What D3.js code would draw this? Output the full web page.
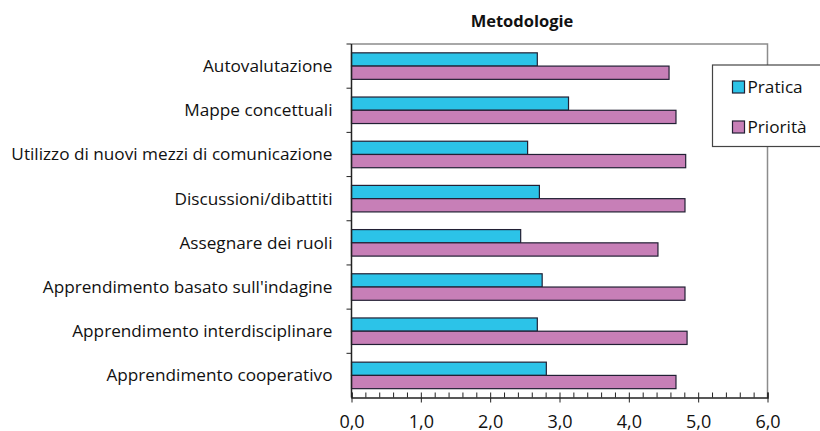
<!DOCTYPE html>
<html>
<head>
<meta charset="utf-8">
<script src="https://cdn.jsdelivr.net/npm/d3@7"></script>
<style>
  html, body { margin: 0; padding: 0; background: #fff; }
  svg { display: block; }
</style>
</head>
<body>
<svg id="chart" width="820" height="431"></svg>
<script>
// Categories, top to bottom
const categories = [
  "Autovalutazione",
  "Mappe concettuali",
  "Utilizzo di nuovi mezzi di comunicazione",
  "Discussioni/dibattiti",
  "Assegnare dei ruoli",
  "Apprendimento basato sull'indagine",
  "Apprendimento interdisciplinare",
  "Apprendimento cooperativo"
];
const seriesNames = ["Pratica", "Priorità"];
const pratica  = [2.68, 3.13, 2.54, 2.71, 2.44, 2.75, 2.68, 2.81];
const priorita = [4.58, 4.68, 4.82, 4.81, 4.42, 4.81, 4.84, 4.68];
const xTicks = [0, 1, 2, 3, 4, 5, 6];
const titleText = "Metodologie";

const colors = { "Pratica": "#2cc3e8", "Priorità": "#c77fb7" };
const labelFont = "Open Sans, sans-serif";

const svg = d3.select("#chart");
const m = { left: 351.5, right: 767.5, top: 44, bottom: 397.5 };

const x = d3.scaleLinear().domain([0, 6]).range([m.left, m.right]);
const y = d3.scaleBand().domain(categories).range([m.top, m.bottom]).padding(0);
const ys = d3.scaleBand().domain(seriesNames)
  .range([y.bandwidth() * 0.2, y.bandwidth() * 0.8]).padding(0);

const rows = categories.map((c, i) => ({ cat: c, values: [
  { s: "Pratica", v: pratica[i] },
  { s: "Priorità", v: priorita[i] }
]}));

// Frame: top and right edges of the plot area
svg.append("path")
  .attr("d", `M${m.left},${m.top}H${m.right}V${m.bottom}`)
  .attr("fill", "none").attr("stroke", "#8c8c8c").attr("stroke-width", 1.5);

// Title
svg.append("text")
  .attr("x", 522).attr("y", 27)
  .attr("text-anchor", "middle")
  .attr("font-family", "Open Sans, sans-serif")
  .attr("font-weight", "bold")
  .attr("font-size", 16.5)
  .attr("fill", "#111")
  .text(titleText);

// Bars
const groups = svg.append("g").selectAll("g").data(rows).join("g")
  .attr("transform", d => `translate(0,${y(d.cat)})`);
groups.selectAll("rect").data(d => d.values).join("rect")
  .attr("x", x(0))
  .attr("y", d => ys(d.s))
  .attr("width", d => x(d.v) - x(0))
  .attr("height", ys.bandwidth())
  .attr("fill", d => colors[d.s])
  .attr("stroke", "#222034")
  .attr("stroke-width", 1.2);

// X axis with major ticks every 1 and minor ticks every 0.2, drawn inward
const xAxisG = svg.append("g").attr("transform", `translate(0,${m.bottom})`);
const minor = d3.range(0, 30.5).map(i => i / 5);
xAxisG.call(d3.axisTop(x).tickValues(minor).tickSize(5).tickFormat(""))
  .call(g => g.selectAll(".tick line").attr("stroke", "#222").attr("stroke-width", 1))
  .call(g => g.select(".domain").attr("stroke", "#222").attr("stroke-width", 1.5));
const xLab = svg.append("g").attr("transform", `translate(0,${m.bottom})`);
xLab.call(d3.axisBottom(x).tickValues(xTicks).tickSize(5)
    .tickFormat(d => d3.format(".1f")(d).replace(".", ",")))
  .call(g => g.select(".domain").remove())
  .call(g => g.selectAll(".tick line").attr("stroke", "#222").attr("stroke-width", 1))
  .call(g => g.selectAll(".tick text")
    .attr("font-family", labelFont).attr("font-size", 18).attr("fill", "#111")
    .attr("y", 30).attr("dy", 0));

// Y axis: ticks at category boundaries
const yAxisG = svg.append("g").attr("transform", `translate(${m.left},0)`);
yAxisG.append("line").attr("y1", m.top).attr("y2", m.bottom)
  .attr("stroke", "#222").attr("stroke-width", 1.5);
yAxisG.selectAll("line.b").data(categories).join("line").attr("class", "b")
  .attr("x1", -5).attr("x2", 0)
  .attr("y1", d => y(d)).attr("y2", d => y(d))
  .attr("stroke", "#222").attr("stroke-width", 1);
yAxisG.selectAll("text").data(categories).join("text")
  .attr("x", -19)
  .attr("y", d => y(d) + y.bandwidth() / 2)
  .attr("dy", "0.35em")
  .attr("text-anchor", "end")
  .attr("font-family", labelFont).attr("font-size", 17.2).attr("fill", "#111")
  .text(d => d);

// Legend
const lg = svg.append("g").attr("transform", "translate(712.5,65)");
lg.append("rect").attr("width", 120).attr("height", 81.5)
  .attr("fill", "#fff").attr("stroke", "#444").attr("stroke-width", 1.2);
const li = lg.selectAll("g").data(seriesNames).join("g")
  .attr("transform", (d, i) => `translate(20,${22 + i * 40})`);
li.append("rect").attr("x", 0).attr("y", -6).attr("width", 12).attr("height", 12)
  .attr("fill", d => colors[d]).attr("stroke", "#222034").attr("stroke-width", 1.2);
li.append("text").attr("x", 15).attr("dy", "0.35em")
  .attr("font-family", labelFont).attr("font-size", 17.2).attr("fill", "#111")
  .text(d => d);
</script>
</body>
</html>
